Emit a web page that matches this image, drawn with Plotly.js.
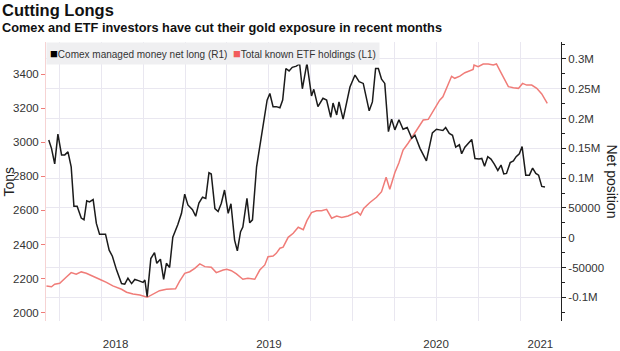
<!DOCTYPE html>
<html>
<head>
<meta charset="utf-8">
<script src="https://cdn.plot.ly/plotly-3.0.1.min.js"></script>
<style>html,body{margin:0;padding:0;background:#fff;}#chart{width:620px;height:351px;}</style>
</head>
<body>
<div id="chart"></div>
<script>
// Comex managed money net long (contracts), right axis R1
var comexDates = ["2018-03-08","2018-03-14","2018-03-21","2018-03-28","2018-04-05","2018-04-12","2018-04-19","2018-04-26","2018-05-02","2018-05-09","2018-05-18","2018-05-24","2018-05-30","2018-06-05","2018-06-13","2018-06-20","2018-06-27","2018-07-10","2018-07-18","2018-07-25","2018-08-03","2018-08-14","2018-08-21","2018-08-28","2018-09-05","2018-09-12","2018-09-20","2018-09-30","2018-10-04","2018-10-09","2018-10-17","2018-10-25","2018-10-30","2018-11-07","2018-11-14","2018-11-20","2018-11-27","2018-12-04","2018-12-15","2018-12-23","2018-12-30","2019-01-06","2019-01-16","2019-01-23","2019-01-30","2019-02-07","2019-02-14","2019-02-21","2019-02-26","2019-03-06","2019-03-13","2019-03-20","2019-03-27","2019-04-04","2019-04-10","2019-04-18","2019-04-24","2019-05-01","2019-05-06","2019-05-15","2019-05-21","2019-05-27","2019-06-05","2019-06-12","2019-06-21","2019-06-28","2019-07-04","2019-07-11","2019-07-18","2019-07-26","2019-08-01","2019-08-08","2019-08-15","2019-08-22","2019-08-31","2019-09-07","2019-09-13","2019-09-23","2019-10-03","2019-10-08","2019-10-17","2019-10-28","2019-11-05","2019-11-14","2019-11-19","2019-11-27","2019-12-02","2019-12-11","2019-12-26","2020-01-06","2020-01-15","2020-01-24","2020-02-06","2020-02-13","2020-02-20","2020-02-26","2020-03-04","2020-03-11","2020-03-19","2020-03-26","2020-04-02","2020-04-11","2020-04-20","2020-04-29","2020-05-09","2020-05-16","2020-05-27","2020-06-10","2020-06-23","2020-07-02","2020-07-09","2020-07-16","2020-07-22","2020-07-30","2020-08-06","2020-08-13","2020-08-21","2020-08-26","2020-09-02","2020-09-09","2020-09-17","2020-09-24","2020-10-03","2020-10-09","2020-10-15","2020-10-22","2020-10-29","2020-11-05","2020-11-13","2020-11-20","2020-11-26","2020-12-02","2020-12-10","2020-12-17","2020-12-23","2020-12-30","2021-01-05","2021-01-13","2021-01-21","2021-01-28","2021-02-04","2021-02-10","2021-02-17","2021-02-24"];
var comexNetLong = [164000,150000,124000,174000,139000,139000,144000,119000,53000,53000,33000,30000,62000,60000,64000,24000,6000,6000,-21000,-31000,-54000,-77000,-78000,-68000,-77000,-70000,-72000,-75000,-71000,-99000,-35000,-25000,-43000,-36000,-70000,-43000,-50000,1000,22000,41000,73000,55000,47000,36000,58000,68000,66000,109000,107000,49000,44000,58000,80000,41000,57000,-4000,-22000,10000,18000,66000,25000,30000,119000,153000,192000,231000,242000,220000,220000,218000,231000,284000,280000,286000,288000,292000,250000,293000,238000,249000,220000,234000,231000,202000,226000,206000,228000,199000,253000,273000,262000,259000,213000,228000,284000,284000,266000,259000,178000,199000,181000,198000,182000,185000,167000,172000,150000,129000,176000,182000,181000,180000,185000,175000,172000,152000,156000,141000,152000,159000,165000,133000,132000,133000,120000,136000,132000,124000,113000,122000,107000,108000,126000,129000,136000,141000,153000,105000,105000,117000,108000,105000,86000,85000];

// Total known ETF holdings (tons), left axis L1
var etfDates = ["2018-03-03","2018-03-14","2018-03-21","2018-04-01","2018-04-15","2018-04-26","2018-05-07","2018-05-18","2018-05-29","2018-06-13","2018-06-27","2018-07-12","2018-07-26","2018-08-14","2018-08-25","2018-09-08","2018-09-23","2018-10-09","2018-10-22","2018-11-05","2018-11-20","2018-12-01","2018-12-10","2018-12-19","2018-12-30","2019-01-10","2019-01-21","2019-02-01","2019-02-12","2019-02-26","2019-03-09","2019-03-24","2019-04-01","2019-04-11","2019-04-22","2019-05-06","2019-05-17","2019-06-01","2019-06-12","2019-06-23","2019-06-30","2019-07-11","2019-07-18","2019-07-26","2019-08-02","2019-08-13","2019-08-24","2019-09-04","2019-09-15","2019-09-23","2019-10-03","2019-10-14","2019-10-25","2019-11-05","2019-11-16","2019-11-27","2019-12-08","2019-12-22","2020-01-02","2020-01-11","2020-01-18","2020-01-25","2020-02-07","2020-02-22","2020-03-04","2020-03-14","2020-03-22","2020-04-02","2020-04-11","2020-04-20","2020-05-01","2020-05-12","2020-05-23","2020-06-03","2020-06-14","2020-06-23","2020-07-02","2020-07-09","2020-07-16","2020-07-28","2020-08-04","2020-08-11","2020-08-22","2020-09-02","2020-09-13","2020-09-20","2020-09-22","2020-10-01","2020-10-12","2020-10-23","2020-11-03","2020-11-10","2020-11-17","2020-11-26","2020-12-06","2020-12-17","2020-12-28","2021-01-06","2021-01-15","2021-01-26","2021-02-06","2021-02-17","2021-02-24","2021-03-01"];
var etfHoldings = [2157,2152,2167,2172,2208,2235,2225,2239,2231,2215,2196,2178,2157,2137,2120,2110,2104,2090,2110,2129,2137,2141,2140,2185,2231,2240,2260,2286,2270,2266,2235,2250,2254,2246,2227,2196,2202,2196,2250,2280,2328,2332,2348,2378,2384,2442,2466,2501,2487,2540,2587,2598,2598,2606,2554,2567,2559,2567,2579,2591,2573,2612,2645,2677,2710,2794,2724,2821,2880,2954,2994,3042,3087,3130,3134,3173,3212,3247,3267,3345,3387,3375,3388,3408,3419,3427,3453,3443,3459,3459,3453,3459,3423,3375,3326,3320,3316,3345,3335,3335,3316,3283,3251,3228];

var tonsTicks = [2000,2200,2400,2600,2800,3000,3200,3400];
var netTickVals = [-100000,-50000,0,50000,100000,150000,200000,250000,300000];
var netTickText = ["-0.1M","-50000","0","50000","0.1M","0.15M","0.2M","0.25M","0.3M"];
var yearTickVals = ["2018-08-01","2019-07-02","2020-07-01","2021-02-14"];
var yearTickText = ["2018","2019","2020","2021"];

var seriesNames = ["Comex managed money net long (R1)","Total known ETF holdings (L1)"];
var blackC = "#1b1b1b", redC = "#f07c78";
var FONT = "Liberation Sans, Arial, sans-serif";

var traces = [
  {x: etfDates, y: etfHoldings, type: "scatter", mode: "lines", yaxis: "y",
   line: {color: redC, width: 1.5}, showlegend: false, hoverinfo: "skip"},
  {x: comexDates, y: comexNetLong, type: "scatter", mode: "lines", yaxis: "y2",
   line: {color: blackC, width: 1.5}, showlegend: false, hoverinfo: "skip"}
];

var legendText = "<span style='color:#000;font-size:13px'>■</span>" + seriesNames[0] +
  "  <span style='color:#f25c5c;font-size:13px'>■</span>" + seriesNames[1];

var W = 515, H = 279;
var layout = {
  width: 620, height: 351,
  margin: {l: 46, r: 59, t: 42, b: 30, pad: 0},
  paper_bgcolor: "#fff", plot_bgcolor: "#fff",
  font: {family: FONT, color: "#333", size: 11},
  showlegend: false,
  xaxis: {type: "date", range: ["2018-03-02", "2021-03-31"],
          tickmode: "array", tickvals: yearTickVals, ticktext: yearTickText,
          ticks: "outside", ticklen: 12, tickcolor: "rgba(0,0,0,0)",
          showgrid: false, zeroline: false, showline: false,
          tickfont: {size: 11.5, color: "#333"},
          minor: {dtick: "M3", tick0: "2018-01-01", showgrid: true, gridcolor: "#e9e7f0", gridwidth: 1, ticks: ""}},
  yaxis: {range: [1951, 3588], tickmode: "array", tickvals: tonsTicks,
          ticks: "outside", ticklen: 4, tickcolor: redC, tickwidth: 1,
          showline: true, linecolor: "#f6d3d3", linewidth: 1,
          showgrid: false, zeroline: false,
          tickfont: {size: 11.5, color: "#333"}},
  yaxis2: {range: [-139800, 328500], overlaying: "y", side: "right",
           tickmode: "array", tickvals: netTickVals, ticktext: netTickText,
           ticks: "outside", ticklen: 4, tickcolor: "#222", tickwidth: 1,
           showline: true, linecolor: "#222", linewidth: 1,
           showgrid: true, gridcolor: "#e9e7f0", gridwidth: 1, zeroline: false,
           tickfont: {size: 11.5, color: "#333"},
           minor: {dtick: 25000, tick0: 0, ticks: "outside", ticklen: 3, tickcolor: "#222", showgrid: false}},
  annotations: [
    {text: "<b>Cutting Longs</b>", xref: "paper", yref: "paper", x: -46 / W, y: (321 - 10) / H,
     xanchor: "left", yanchor: "middle", showarrow: false, font: {size: 16.5, color: "#111", family: FONT}},
    {text: "<b>Comex and ETF investors have cut their gold exposure in recent months</b>", xref: "paper", yref: "paper",
     x: -46 / W, y: (321 - 27) / H, xanchor: "left", yanchor: "middle", showarrow: false,
     font: {size: 12.75, color: "#111", family: FONT}},
    {text: legendText, xref: "paper", yref: "paper", x: 0, y: 1, xanchor: "left", yanchor: "top",
     showarrow: false, bgcolor: "#efeff1", borderpad: 3, align: "left",
     font: {size: 10, color: "#333", family: FONT}},
    {text: "Tons", xref: "paper", yref: "paper", x: (8 - 46) / W, y: 0.5, textangle: -90,
     xanchor: "center", yanchor: "middle", showarrow: false, font: {size: 14, color: "#222"}},
    {text: "Net position", xref: "paper", yref: "paper", x: (612 - 46) / W, y: 0.5, textangle: 90,
     xanchor: "center", yanchor: "middle", showarrow: false, font: {size: 14, color: "#222"}}
  ]
};

Plotly.newPlot("chart", traces, layout, {staticPlot: true, displayModeBar: false});
</script>
</body>
</html>
